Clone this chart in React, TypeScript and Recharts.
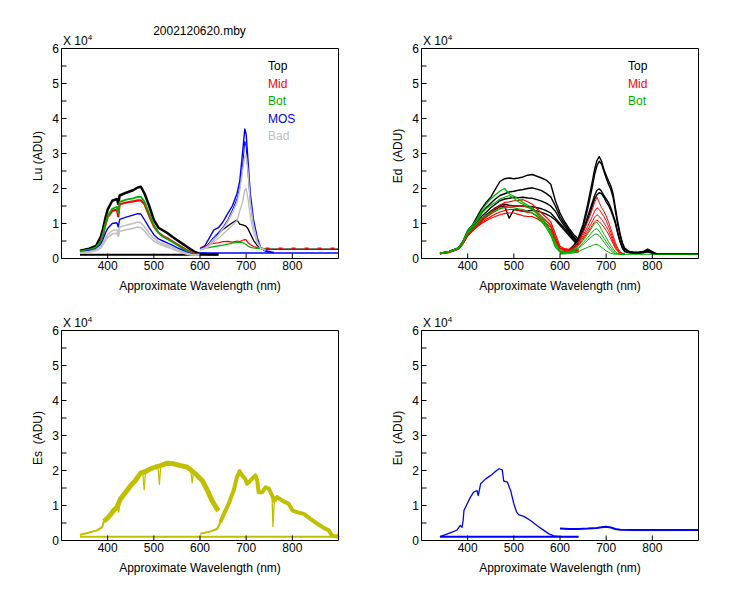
import { LineChart, Line, XAxis, YAxis } from 'recharts';

type Pt = { nm: number; v: number };
type Series = { data: Pt[]; color: string; width?: number; dash?: string };

const BLACK = '#000000';
const RED = '#ff0000';
const GREEN = '#00b000';
const BLUE = '#0000ff';
const GRAY = '#c0c0c0';
const OLIVE = '#c0c000';
const FONT = '"Liberation Sans", Arial, sans-serif';

const xTicks = [400, 500, 600, 700, 800];
const yTicks = [0, 0.5, 1, 1.5, 2, 2.5, 3, 3.5, 4, 4.5, 5, 5.5, 6];

// ---- Lu (upwelling radiance) ----
const luBlueNm = [340, 360, 375, 385, 390, 395, 400, 410, 420, 423, 426, 440, 455, 465, 472, 480, 490, 500, 510, 520, 530, 540, 550, 560, 570, 580, 590, 600, 620, 640];
const luTopBlue = [0.22, 0.28, 0.36, 0.62, 0.85, 1.15, 1.4, 1.65, 1.7, 1.56, 1.8, 1.88, 1.95, 2.03, 2.05, 1.85, 1.5, 1.1, 0.88, 0.8, 0.72, 0.62, 0.53, 0.44, 0.35, 0.26, 0.18, 0.14, 0.12, 0.12];
const luMidBlue = [0.2, 0.24, 0.3, 0.48, 0.68, 0.95, 1.18, 1.36, 1.4, 1.2, 1.55, 1.6, 1.63, 1.66, 1.66, 1.55, 1.22, 0.92, 0.74, 0.64, 0.57, 0.49, 0.41, 0.33, 0.25, 0.18, 0.13, 0.11];
const luBotBlue = [0.2, 0.25, 0.32, 0.5, 0.7, 0.98, 1.22, 1.42, 1.48, 1.3, 1.62, 1.68, 1.72, 1.76, 1.76, 1.62, 1.28, 0.95, 0.74, 0.62, 0.55, 0.47, 0.39, 0.31, 0.23, 0.16, 0.12, 0.11];
const luMosBlue = [0.18, 0.22, 0.27, 0.4, 0.55, 0.72, 0.86, 1.0, 1.02, 0.9, 1.12, 1.18, 1.24, 1.28, 1.27, 1.1, 0.88, 0.68, 0.56, 0.5, 0.44, 0.38, 0.31, 0.25, 0.19, 0.14, 0.11, 0.1];
const luBad1Blue = [0.17, 0.2, 0.25, 0.35, 0.45, 0.58, 0.68, 0.8, 0.82, 0.72, 0.9, 0.95, 1.0, 1.04, 1.02, 0.9, 0.72, 0.58, 0.48, 0.42, 0.37, 0.32, 0.26, 0.21, 0.16, 0.12, 0.1, 0.1];
const luBad2Blue = [0.15, 0.18, 0.22, 0.3, 0.4, 0.5, 0.6, 0.7, 0.72, 0.63, 0.78, 0.82, 0.86, 0.9, 0.88, 0.78, 0.62, 0.5, 0.42, 0.37, 0.32, 0.27, 0.22, 0.17, 0.13, 0.1, 0.1, 0.1];

const luRedNm = [600, 610, 620, 630, 640, 650, 660, 670, 680, 686, 692, 697, 700, 704, 709, 716, 724, 731, 742, 760, 900];
const luTopRed = [0.28, 0.3, 0.4, 0.55, 0.72, 0.83, 0.93, 1.02, 1.1, 0.98, 0.96, 0.94, 0.92, 0.85, 0.71, 0.52, 0.37, 0.3, 0.27, 0.27, 0.27];
const luMidRed = [0.3, 0.36, 0.4, 0.43, 0.45, 0.48, 0.49, 0.47, 0.5, 0.48, 0.52, 0.54, 0.53, 0.45, 0.4, 0.34, 0.31, 0.29, 0.28];
const luBotRed = [0.28, 0.3, 0.31, 0.34, 0.36, 0.38, 0.41, 0.44, 0.46, 0.46, 0.46, 0.42, 0.4, 0.36, 0.32, 0.3, 0.29, 0.28, 0.28];
const luMos1Red = [0.27, 0.35, 0.58, 0.82, 0.88, 1.05, 1.28, 1.5, 1.85, 2.2, 3.0, 3.7, 3.55, 2.8, 1.85, 1.1, 0.6, 0.32, 0.22, 0.17];
const luMos2Red = [0.25, 0.3, 0.45, 0.62, 0.75, 0.9, 1.1, 1.38, 1.7, 2.0, 2.6, 3.35, 3.2, 2.45, 1.6, 0.95, 0.55, 0.3, 0.2, 0.16];
const luBad1Red = [0.25, 0.3, 0.4, 0.55, 0.68, 0.85, 1.05, 1.3, 1.58, 1.95, 2.5, 2.9, 2.95, 2.5, 1.6, 0.95, 0.5, 0.3, 0.24];
const luBad2Red = [0.24, 0.28, 0.36, 0.48, 0.58, 0.7, 0.82, 0.95, 1.08, 1.35, 1.6, 1.95, 2.0, 1.7, 1.2, 0.75, 0.45, 0.3, 0.24];

const luTopFlatNm = [340, 640];
const luTopFlat = [0.11, 0.11];
const luMidTailNm = [742, 900];
const luMidTail = [0.29, 0.29];
const luMosFlatNm = [600, 900];
const luMosFlat = [0.16, 0.16];

// ---- Ed (downwelling irradiance) ----
const edBlueNm = [340, 360, 380, 390, 400, 410, 420, 430, 440, 450, 460, 470, 480, 490, 500, 510, 520, 530, 540, 550, 560, 570, 580, 590, 600, 610, 620, 630, 640];
const edTop1Blue = [0.15, 0.2, 0.3, 0.5, 0.8, 0.95, 1.18, 1.42, 1.6, 1.75, 1.98, 2.2, 2.28, 2.3, 2.28, 2.3, 2.33, 2.38, 2.4, 2.35, 2.3, 2.24, 2.12, 1.65, 1.3, 1.05, 0.85, 0.68, 0.55];
const edTop2Blue = [0.15, 0.2, 0.3, 0.48, 0.75, 0.9, 1.1, 1.3, 1.45, 1.58, 1.7, 1.8, 1.85, 1.9, 1.92, 1.95, 1.97, 2.0, 2.02, 1.98, 1.94, 1.86, 1.76, 1.5, 1.2, 0.98, 0.8, 0.62, 0.48];
const edTop3Blue = [0.14, 0.19, 0.29, 0.46, 0.72, 0.85, 1.02, 1.2, 1.32, 1.45, 1.55, 1.65, 1.7, 1.72, 1.75, 1.74, 1.75, 1.73, 1.72, 1.68, 1.64, 1.58, 1.5, 1.35, 1.12, 0.92, 0.75, 0.58, 0.44];
const edTop4Blue = [0.14, 0.19, 0.28, 0.45, 0.7, 0.82, 0.98, 1.12, 1.25, 1.35, 1.45, 1.52, 1.55, 1.52, 1.5, 1.5, 1.5, 1.49, 1.48, 1.45, 1.42, 1.37, 1.3, 1.15, 1.0, 0.85, 0.7, 0.55, 0.4];
const edTop5Blue = [0.14, 0.18, 0.28, 0.44, 0.68, 0.8, 0.95, 1.08, 1.2, 1.3, 1.4, 1.48, 1.5, 1.15, 1.4, 1.38, 1.35, 1.36, 1.38, 1.36, 1.32, 1.27, 1.2, 1.1, 0.95, 0.8, 0.65, 0.5, 0.38];
const edMid1Blue = [0.14, 0.19, 0.28, 0.45, 0.7, 0.85, 1.0, 1.12, 1.22, 1.32, 1.42, 1.52, 1.6, 1.62, 1.65, 1.66, 1.68, 1.62, 1.55, 1.42, 1.3, 1.18, 1.05, 0.7, 0.35, 0.28, 0.26, 0.25, 0.25];
const edMid2Blue = [0.14, 0.18, 0.27, 0.44, 0.68, 0.82, 0.96, 1.08, 1.18, 1.27, 1.35, 1.42, 1.48, 1.5, 1.5, 1.5, 1.5, 1.46, 1.42, 1.32, 1.2, 1.08, 0.95, 0.6, 0.3, 0.26, 0.25, 0.24, 0.24];
const edMid3Blue = [0.14, 0.18, 0.27, 0.43, 0.66, 0.8, 0.92, 1.03, 1.12, 1.2, 1.27, 1.33, 1.37, 1.4, 1.4, 1.38, 1.35, 1.32, 1.3, 1.22, 1.1, 1.0, 0.9, 0.55, 0.28, 0.25, 0.24, 0.23, 0.23];
const edMid4Blue = [0.13, 0.17, 0.26, 0.42, 0.64, 0.78, 0.9, 1.0, 1.08, 1.15, 1.2, 1.25, 1.28, 1.3, 1.3, 1.26, 1.22, 1.2, 1.2, 1.14, 1.05, 0.95, 0.82, 0.5, 0.25, 0.23, 0.22, 0.22, 0.22];
const edBot1Blue = [0.15, 0.2, 0.3, 0.5, 0.78, 0.95, 1.12, 1.35, 1.55, 1.7, 1.82, 1.93, 2.0, 1.85, 1.78, 1.7, 1.6, 1.52, 1.45, 1.33, 1.2, 1.0, 0.78, 0.45, 0.22, 0.2, 0.2, 0.2, 0.2];
const edBot2Blue = [0.15, 0.2, 0.3, 0.48, 0.75, 0.92, 1.08, 1.28, 1.42, 1.52, 1.6, 1.7, 1.75, 1.8, 1.72, 1.62, 1.55, 1.47, 1.4, 1.28, 1.15, 0.95, 0.72, 0.38, 0.2, 0.19, 0.19, 0.19, 0.19];
const edBot3Blue = [0.14, 0.19, 0.28, 0.46, 0.72, 0.86, 1.0, 1.15, 1.22, 1.3, 1.36, 1.42, 1.45, 1.46, 1.45, 1.42, 1.4, 1.35, 1.3, 1.2, 1.06, 0.88, 0.66, 0.32, 0.18, 0.18, 0.18, 0.18, 0.18];

const edRedNm = [600, 610, 620, 630, 640, 650, 660, 670, 675, 680, 685, 690, 695, 700, 705, 710, 715, 720, 725, 730, 735, 740, 750, 760, 770, 780, 790, 800, 810, 830, 900];
const edTop1Red = [0.15, 0.18, 0.25, 0.38, 0.6, 0.98, 1.55, 2.2, 2.55, 2.8, 2.91, 2.78, 2.55, 2.38, 2.22, 2.08, 1.85, 1.45, 1.05, 0.72, 0.46, 0.3, 0.2, 0.18, 0.18, 0.2, 0.27, 0.2, 0.13, 0.12, 0.12];
const edTop2Red = [0.15, 0.18, 0.24, 0.36, 0.56, 0.9, 1.42, 2.05, 2.4, 2.65, 2.78, 2.7, 2.5, 2.3, 2.12, 1.98, 1.75, 1.35, 0.98, 0.66, 0.42, 0.27, 0.19, 0.17, 0.17, 0.19, 0.24, 0.18, 0.12, 0.12, 0.12];
const edTop3Red = [0.14, 0.17, 0.22, 0.33, 0.5, 0.8, 1.2, 1.6, 1.8, 1.95, 1.99, 1.92, 1.8, 1.7, 1.6, 1.45, 1.25, 1.05, 0.75, 0.5, 0.32, 0.22, 0.17, 0.16, 0.16, 0.17, 0.2, 0.16, 0.12, 0.12, 0.12];
const edTop4Red = [0.14, 0.17, 0.22, 0.32, 0.48, 0.76, 1.12, 1.5, 1.7, 1.82, 1.88, 1.85, 1.75, 1.62, 1.52, 1.38, 1.2, 1.0, 0.72, 0.48, 0.3, 0.2, 0.16, 0.15, 0.15, 0.16, 0.19, 0.15, 0.12, 0.12, 0.12];
const edMid1Red = [0.2, 0.2, 0.25, 0.35, 0.48, 0.75, 1.05, 1.4, 1.6, 1.75, 1.6, 1.45, 1.35, 1.22, 1.05, 0.85, 0.65, 0.45, 0.3, 0.2, 0.15, 0.14];
const edMid2Red = [0.2, 0.2, 0.24, 0.32, 0.44, 0.66, 0.92, 1.2, 1.35, 1.45, 1.4, 1.3, 1.2, 1.08, 0.92, 0.75, 0.56, 0.38, 0.25, 0.17, 0.14, 0.13];
const edMid3Red = [0.19, 0.19, 0.23, 0.3, 0.4, 0.6, 0.82, 1.05, 1.18, 1.25, 1.2, 1.12, 1.02, 0.92, 0.8, 0.65, 0.48, 0.32, 0.22, 0.16, 0.13, 0.13];
const edMid4Red = [0.19, 0.19, 0.22, 0.28, 0.38, 0.55, 0.75, 0.95, 1.05, 1.1, 1.05, 0.98, 0.9, 0.8, 0.7, 0.56, 0.42, 0.28, 0.2, 0.15, 0.13, 0.13];
const edBot1Red = [0.15, 0.16, 0.2, 0.26, 0.36, 0.52, 0.7, 0.9, 1.0, 1.04, 0.95, 0.82, 0.7, 0.6, 0.48, 0.38, 0.28, 0.2, 0.15, 0.13, 0.12, 0.12, 0.12, 0.12, 0.12, 0.12, 0.12, 0.12, 0.12, 0.12, 0.12];
const edBot2Red = [0.15, 0.16, 0.19, 0.24, 0.32, 0.45, 0.6, 0.76, 0.83, 0.85, 0.78, 0.68, 0.58, 0.48, 0.38, 0.3, 0.22, 0.16, 0.13, 0.12, 0.12, 0.12];
const edBot3Red = [0.14, 0.15, 0.18, 0.22, 0.29, 0.4, 0.52, 0.64, 0.69, 0.7, 0.65, 0.56, 0.47, 0.38, 0.3, 0.23, 0.17, 0.13, 0.12, 0.12, 0.12, 0.12];
const edBot4Red = [0.13, 0.13, 0.14, 0.16, 0.2, 0.26, 0.32, 0.37, 0.4, 0.4, 0.37, 0.32, 0.27, 0.22, 0.18, 0.15, 0.13, 0.12];

// ---- Es (surface irradiance): noisy band plus narrow absorption dips ----
const esBlueNm = [340, 363, 377, 388, 392, 402, 413, 420, 428, 439, 450, 460, 471, 476, 482, 493, 504, 509, 515, 529, 543, 558, 572, 580, 586, 594, 605, 616, 626, 637, 640];
const esBlue = [0.16, 0.24, 0.29, 0.38, 0.55, 0.67, 0.86, 0.95, 1.19, 1.38, 1.57, 1.71, 1.92, 1.95, 1.97, 2.05, 2.1, 2.12, 2.14, 2.21, 2.19, 2.14, 2.1, 2.02, 1.95, 1.86, 1.71, 1.43, 1.14, 0.9, 0.85];
const esBlueDipNm = [424, 479, 512, 583];
const esBlueDip = [0.81, 1.45, 1.6, 1.65];
const esRedNm = [600, 623, 637, 644, 652, 662, 673, 680, 686, 691, 698, 702, 709, 720, 724, 727, 735, 742, 749, 756, 761, 767, 778, 792, 800, 810, 825, 839, 854, 868, 879, 886, 897, 900];
const esRed = [0.19, 0.26, 0.33, 0.52, 0.76, 1.05, 1.43, 1.81, 1.98, 1.86, 1.76, 1.62, 1.71, 1.86, 1.71, 1.38, 1.38, 1.52, 1.48, 1.29, 1.14, 1.24, 1.14, 1.05, 0.86, 0.81, 0.76, 0.62, 0.48, 0.36, 0.29, 0.14, 0.11, 0.15];
const esRedDipNm = [758];
const esRedDip = [0.4];
const esFlatNm = [340, 900];
const esFlat = [0.11, 0.11];

// ---- Eu (upwelling irradiance) ----
const euBlueNm = [340, 352, 366, 377, 384, 388, 390, 392, 399, 406, 413, 420, 423, 428, 439, 450, 460, 468, 475, 478, 486, 493, 500, 506, 511, 522, 536, 550, 565, 576, 587, 601, 640];
const euBlue = [0.11, 0.17, 0.24, 0.3, 0.43, 0.38, 0.55, 0.86, 1.05, 1.24, 1.38, 1.43, 1.28, 1.62, 1.76, 1.86, 1.97, 2.05, 2.02, 1.7, 1.67, 1.43, 1.05, 0.81, 0.73, 0.69, 0.57, 0.43, 0.29, 0.19, 0.13, 0.11, 0.11];
const euFlatNm = [340, 640];
const euFlat = [0.11, 0.11];
const euRedNm = [600, 620, 640, 660, 680, 690, 700, 710, 720, 730, 760, 800, 850, 900];
const euRed = [0.34, 0.33, 0.33, 0.34, 0.36, 0.38, 0.39, 0.37, 0.33, 0.31, 0.3, 0.3, 0.3, 0.3];

const zip = (nm: number[], v: number[]): Pt[] => v.map((y, i) => ({ nm: nm[i], v: y }));
const merge = (a: Pt[], b: Pt[]): Pt[] => [...a, ...b].sort((p, q) => p.nm - q.nm);

const luSeries: Series[] = [
  { data: zip(luTopFlatNm, luTopFlat), color: BLACK, width: 2 },
  { data: zip(luBlueNm, luTopBlue), color: BLACK, width: 2.5 },
  { data: zip(luRedNm, luTopRed), color: BLACK, width: 1.3 },
  { data: zip(luBlueNm, luMidBlue), color: RED, width: 2.2 },
  { data: zip(luRedNm, luMidRed), color: RED, width: 1.2 },
  { data: zip(luMidTailNm, luMidTail), color: RED, width: 1.5, dash: '4 9' },
  { data: zip(luBlueNm, luBotBlue), color: GREEN, width: 1.8 },
  { data: zip(luRedNm, luBotRed), color: GREEN, width: 1.2 },
  { data: zip(luBlueNm, luMosBlue), color: BLUE, width: 1.4 },
  { data: zip(luMosFlatNm, luMosFlat), color: BLUE, width: 1.5 },
  { data: zip(luRedNm, luMos1Red), color: BLUE, width: 1.4 },
  { data: zip(luRedNm, luMos2Red), color: BLUE, width: 1 },
  { data: zip(luBlueNm, luBad1Blue), color: GRAY, width: 1.6 },
  { data: zip(luBlueNm, luBad2Blue), color: GRAY, width: 1.6 },
  { data: zip(luRedNm, luBad1Red), color: GRAY, width: 1.4 },
  { data: zip(luRedNm, luBad2Red), color: GRAY, width: 1.4 },
];

const edSeries: Series[] = [
  ...[edTop1Blue, edTop2Blue, edTop3Blue, edTop4Blue, edTop5Blue].map((v) => ({ data: zip(edBlueNm, v), color: BLACK, width: 1.4 })),
  ...[edTop1Red, edTop2Red, edTop3Red, edTop4Red].map((v) => ({ data: zip(edRedNm, v), color: BLACK, width: 1.4 })),
  ...[edMid1Blue, edMid2Blue, edMid3Blue, edMid4Blue].map((v) => ({ data: zip(edBlueNm, v), color: RED, width: 1.2 })),
  ...[edMid1Red, edMid2Red, edMid3Red, edMid4Red].map((v) => ({ data: zip(edRedNm, v), color: RED, width: 1 })),
  ...[edBot1Blue, edBot2Blue, edBot3Blue].map((v) => ({ data: zip(edBlueNm, v), color: GREEN, width: 1.2 })),
  ...[edBot1Red, edBot2Red, edBot3Red, edBot4Red].map((v) => ({ data: zip(edRedNm, v), color: GREEN, width: 1 })),
];

const esBlueBand = zip(esBlueNm, esBlue);
const esRedBand = zip(esRedNm, esRed);
const esSeries: Series[] = [
  { data: zip(esFlatNm, esFlat), color: OLIVE, width: 2 },
  { data: esBlueBand.slice(0, 5), color: OLIVE, width: 2 },
  { data: esBlueBand.slice(4), color: OLIVE, width: 5 },
  { data: merge(esBlueBand, zip(esBlueDipNm, esBlueDip)), color: OLIVE, width: 1.3 },
  { data: esRedBand.slice(0, 4), color: OLIVE, width: 2 },
  { data: esRedBand.slice(3), color: OLIVE, width: 4 },
  { data: merge(esRedBand, zip(esRedDipNm, esRedDip)), color: OLIVE, width: 1.3 },
];

const euSeries: Series[] = [
  { data: zip(euFlatNm, euFlat), color: BLUE, width: 2 },
  { data: zip(euBlueNm, euBlue), color: BLUE, width: 1.3 },
  { data: zip(euRedNm, euRed), color: BLUE, width: 2 },
];

const panels = [
  { left: 0, top: 0, yLabel: 'Lu (ADU)', series: luSeries },
  { left: 360, top: 0, yLabel: 'Ed  (ADU)', series: edSeries },
  { left: 0, top: 282, yLabel: 'Es  (ADU)', series: esSeries },
  { left: 360, top: 282, yLabel: 'Eu  (ADU)', series: euSeries },
];

const luLegend = [
  { label: 'Top', color: BLACK },
  { label: 'Mid', color: RED },
  { label: 'Bot', color: GREEN },
  { label: 'MOS', color: BLUE },
  { label: 'Bad', color: GRAY },
];
const edLegend = luLegend.slice(0, 3);

function Panel({ left, top, series }: { left: number; top: number; series: Series[] }) {
  const axisCommon = { stroke: BLACK, tickSize: -5, interval: 0 as const };
  return (
    <div style={{ position: 'absolute', left, top }}>
      <LineChart width={375} height={300} margin={{ top: 47.5, right: 35.5, bottom: 0, left: 0.5 }} style={{ fontFamily: FONT }}>
        <XAxis
          xAxisId="b"
          dataKey="nm"
          type="number"
          domain={[300, 900]}
          ticks={xTicks}
          height={41.5}
          tickMargin={8}
          tick={{ fill: BLACK, fontSize: 12, fontFamily: FONT }}
          label={{ value: 'Approximate Wavelength (nm)', position: 'insideBottom', offset: 10, fill: BLACK, fontSize: 12, fontFamily: FONT }}
          {...axisCommon}
        />
        <XAxis xAxisId="t" orientation="top" dataKey="nm" type="number" domain={[300, 900]} ticks={xTicks} height={1} tick={false} {...axisCommon} />
        <YAxis
          yAxisId="l"
          type="number"
          domain={[0, 6]}
          ticks={yTicks}
          width={61}
          tickMargin={7.5}
          tickFormatter={(v: number) => (Number.isInteger(v) ? String(v) : '')}
          tick={{ fill: BLACK, fontSize: 12, fontFamily: FONT }}
          {...axisCommon}
        />
        <YAxis yAxisId="r" orientation="right" type="number" domain={[0, 6]} ticks={yTicks} width={1} tick={false} {...axisCommon} />
        {series.map((s, i) => (
          <Line
            key={i}
            xAxisId="b"
            yAxisId="l"
            data={s.data}
            dataKey="v"
            type="linear"
            stroke={s.color}
            strokeWidth={s.width ?? 1}
            strokeDasharray={s.dash}
            strokeLinejoin="round"
            dot={false}
            activeDot={false}
            isAnimationActive={false}
          />
        ))}
      </LineChart>
    </div>
  );
}

export default function App() {
  return (
    <div style={{ position: 'relative', width: 750, height: 600, margin: -8, background: '#fff', fontFamily: FONT }}>
      {panels.map((p, i) => (
        <Panel key={i} left={p.left} top={p.top} series={p.series} />
      ))}
      <svg width={750} height={600} style={{ position: 'absolute', left: 0, top: 0, pointerEvents: 'none' }} fontFamily={FONT} fontSize={12}>
        <text x={199.5} y={34.5} textAnchor="middle" fill={BLACK}>2002120620.mby</text>
        {panels.map((p, i) => (
          <g key={i}>
            <text x={p.left + 63} y={p.top + 44.5} fill={BLACK}>
              X 10<tspan fontSize={8} dy={-5}>4</tspan>
            </text>
            <text
              x={p.left + 41.5}
              y={p.top + 156}
              transform={`rotate(-90 ${p.left + 41.5} ${p.top + 156})`}
              textAnchor="middle"
              fill={BLACK}
              style={{ whiteSpace: 'pre' }}
            >
              {p.yLabel}
            </text>
          </g>
        ))}
        {luLegend.map((l, i) => (
          <text key={`lu${i}`} x={268} y={70 + i * 17.5} fill={l.color}>{l.label}</text>
        ))}
        {edLegend.map((l, i) => (
          <text key={`ed${i}`} x={628} y={70 + i * 17.5} fill={l.color}>{l.label}</text>
        ))}
      </svg>
    </div>
  );
}
